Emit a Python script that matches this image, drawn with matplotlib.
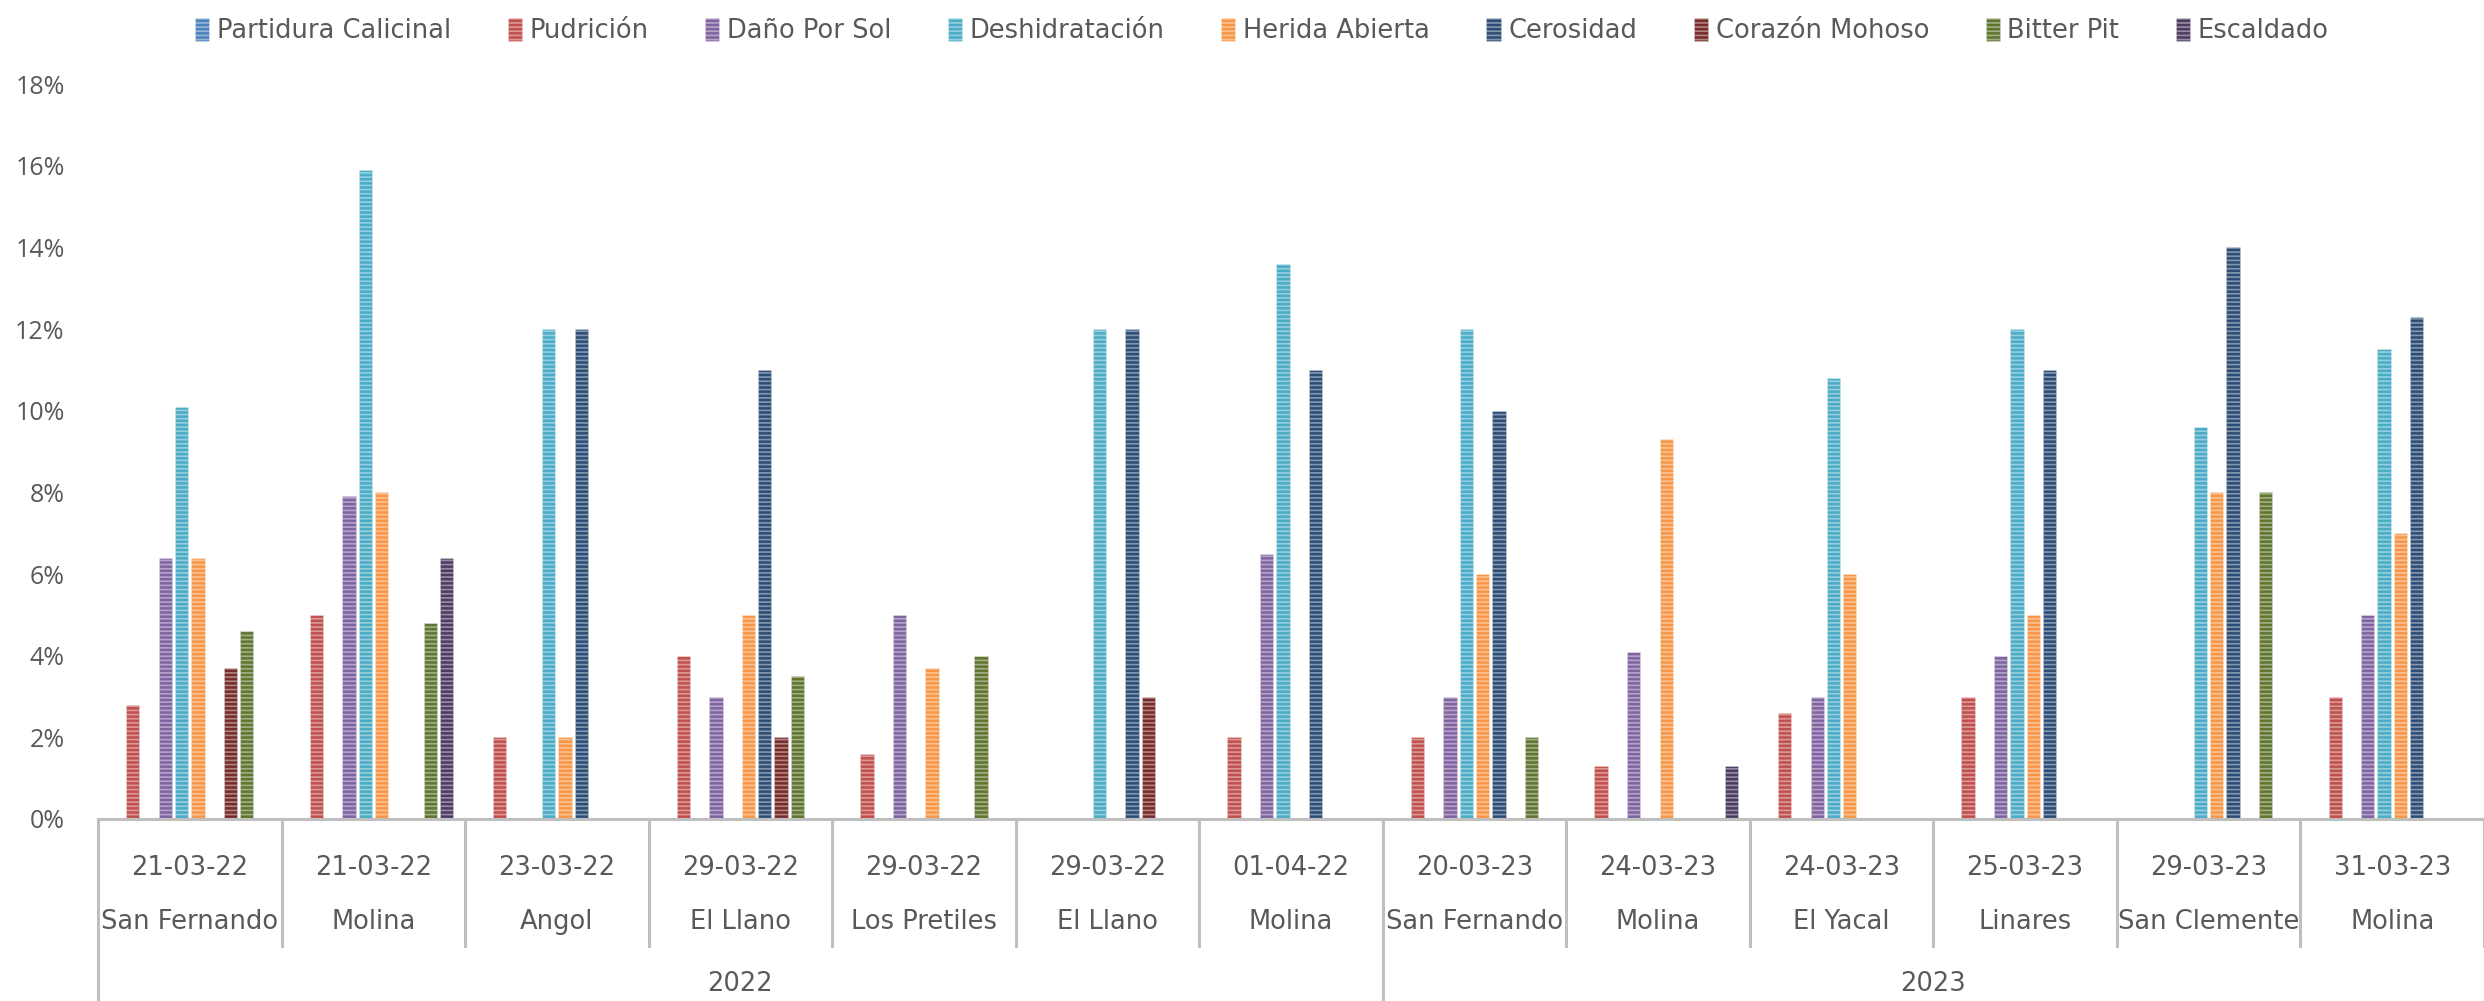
import numpy as np
import matplotlib.pyplot as plt
from matplotlib.patches import Patch
from matplotlib.lines import Line2D
import matplotlib.transforms as mtransforms

# categories (two-level axis + year)
dates = ["21-03-22", "21-03-22", "23-03-22", "29-03-22", "29-03-22", "29-03-22", "01-04-22",
         "20-03-23", "24-03-23", "24-03-23", "25-03-23", "29-03-23", "31-03-23"]
places = ["San Fernando", "Molina", "Angol", "El Llano", "Los Pretiles", "El Llano", "Molina",
          "San Fernando", "Molina", "El Yacal", "Linares", "San Clemente", "Molina"]
years = ["2022", "2023"]
year_counts = [7, 6]

series_names = ["Partidura Calicinal", "Pudrición", "Daño Por Sol", "Deshidratación",
                "Herida Abierta", "Cerosidad", "Corazón Mohoso", "Bitter Pit", "Escaldado"]

# values in %
partidura = [0, 0, 0, 0, 0, 0, 0, 0, 0, 0, 0, 0, 0]
pudricion = [2.8, 5.0, 2.0, 4.0, 1.6, 0, 2.0, 2.0, 1.3, 2.6, 3.0, 0, 3.0]
dano_sol = [6.4, 7.9, 0, 3.0, 5.0, 0, 6.5, 3.0, 4.1, 3.0, 4.0, 0, 5.0]
deshidratacion = [10.1, 15.9, 12.0, 0, 0, 12.0, 13.6, 12.0, 0, 10.8, 12.0, 9.6, 11.5]
herida = [6.4, 8.0, 2.0, 5.0, 3.7, 0, 0, 6.0, 9.3, 6.0, 5.0, 8.0, 7.0]
cerosidad = [0, 0, 12.0, 11.0, 0, 12.0, 11.0, 10.0, 0, 0, 11.0, 14.0, 12.3]
corazon = [3.7, 0, 0, 2.0, 0, 3.0, 0, 0, 0, 0, 0, 0, 0]
bitter_pit = [4.6, 4.8, 0, 3.5, 4.0, 0, 0, 2.0, 0, 0, 0, 8.0, 0]
escaldado = [0, 6.4, 0, 0, 0, 0, 0, 0, 1.3, 0, 0, 0, 0]

values = [partidura, pudricion, dano_sol, deshidratacion, herida,
          cerosidad, corazon, bitter_pit, escaldado]
colors = ["#4F81BD", "#C0504D", "#8064A2", "#4BACC6", "#F79646",
          "#2C4D75", "#772C2A", "#5F7530", "#4D3B62"]
# position slot of each series inside a group (slot 2 is an empty, unnamed series)
slots = [0, 1, 3, 4, 5, 6, 7, 8, 9]

plt.rcParams['font.family'] = ['Liberation Sans Narrow', 'DejaVu Sans']
plt.rcParams['hatch.linewidth'] = 1.2
stripe = (1, 1, 1, 0.42)

W, H = 2484, 1001
fig = plt.figure(figsize=(W / 100, H / 100), dpi=100)
ax_left, ax_bottom_px, ax_top_px = 98, 819, 84
ax = fig.add_axes([ax_left / W, 1 - ax_bottom_px / H, 1 - ax_left / W, (ax_bottom_px - ax_top_px) / H])

n = len(dates)
x = np.arange(n)
slot_w = 0.0888
bar_w = 0.0725
for vals, col, s, name in zip(values, colors, slots, series_names):
    ax.bar(x + (s - 4.5) * slot_w, vals, width=bar_w, color=col,
           edgecolor=stripe, linewidth=0.4, hatch='----', label=name)

ax.set_xlim(-0.5, n - 0.5)
ax.set_ylim(0, 18)
ax.set_yticks(np.arange(0, 19, 2))
ax.set_yticklabels([f"{v}%" for v in range(0, 19, 2)])
for t in ax.get_yticklabels():
    t.set_fontfamily(['Open Sans', 'DejaVu Sans'])
    t.set_fontsize(18)
    t.set_color("#595959")
ax.tick_params(axis='y', length=0, pad=24)
ax.set_xticks([])
for sp in ['top', 'right', 'left']:
    ax.spines[sp].set_visible(False)
ax.spines['bottom'].set_color("#BFBFBF")
ax.spines['bottom'].set_linewidth(2.2)

# multi-level category axis
axis_h = ax_bottom_px - ax_top_px
def ay(px):
    return (ax_bottom_px - px) / axis_h

trans = mtransforms.blended_transform_factory(ax.transData, ax.transAxes)
lab_color = "#595959"
for i in range(n):
    ax.text(i, ay(868), dates[i], transform=trans, ha='center', va='center',
            fontsize=18.5, color=lab_color)
    ax.text(i, ay(922), places[i], transform=trans, ha='center', va='center',
            fontsize=18.5, color=lab_color)

sep_color = "#BFBFBF"
year_edges = np.cumsum([0] + year_counts) - 0.5
for b in np.arange(-0.5, n, 1.0):
    long_line = np.any(np.isclose(b, year_edges[:-1]))
    y_end = ay(1001) if long_line else ay(946)
    ax.add_line(Line2D([b, b], [0, y_end], transform=trans, color=sep_color,
                       linewidth=2.2, clip_on=False))
for k, yr in enumerate(years):
    ax.text((year_edges[k] + year_edges[k + 1]) / 2, ay(984), yr, transform=trans,
            ha='center', va='center', fontsize=18.5, color=lab_color)

handles = [Patch(facecolor=c, edgecolor=stripe, linewidth=0.4, hatch='----', label=nm)
           for c, nm in zip(colors, series_names)]
leg = fig.legend(handles=handles, loc='upper center', bbox_to_anchor=(0.508, 1.005), ncol=9,
                 frameon=False, fontsize=18.5, handlelength=0.55, handleheight=1.0,
                 handletextpad=0.3, columnspacing=2.2)
for t in leg.get_texts():
    t.set_color(lab_color)

fig.savefig("out.png", dpi=100)
